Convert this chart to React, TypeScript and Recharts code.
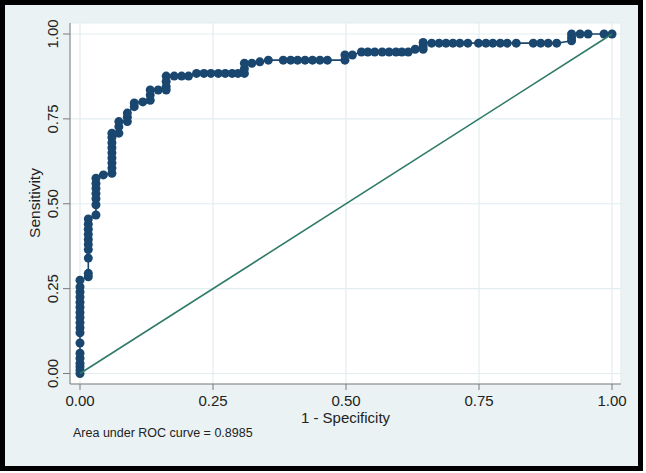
import React from "react";
import { CartesianGrid, Label, Scatter, ScatterChart, XAxis, YAxis } from "recharts";

document.body.style.margin = "0";

const NAVY = "#1a476f";
const VERDE = "#2f7a68";
const FONDO = "#eaf2f3";
const EJE = "#7a7a7a";

const TICKS = [0, 0.25, 0.5, 0.75, 1];

// 1 - specificity
const FPR = [
  0, 0, 0, 0, 0, 0, 0, 0, 0, 0, 0, 0, 0, 0, 0, 0, 0, 0,
  0.0156, 0.0156, 0.0156, 0.0156, 0.0156, 0.0156, 0.0156, 0.0156, 0.0156, 0.0156,
  0.03, 0.03, 0.03, 0.03, 0.03, 0.03, 0.03,
  0.044,
  0.06, 0.06, 0.06, 0.06, 0.06, 0.06, 0.06, 0.06, 0.06,
  0.073, 0.073, 0.073,
  0.089, 0.089, 0.089,
  0.102, 0.102,
  0.118,
  0.132, 0.132, 0.132,
  0.147,
  0.162, 0.162, 0.162, 0.162,
  0.177, 0.191, 0.204,
  0.219, 0.233, 0.246, 0.26, 0.273, 0.286, 0.297,
  0.309, 0.309, 0.309,
  0.323, 0.338, 0.354,
  0.382, 0.396, 0.409, 0.423, 0.437, 0.451, 0.465,
  0.498, 0.498,
  0.512, 0.529,
  0.541, 0.554, 0.568, 0.581, 0.594, 0.605, 0.617, 0.63,
  0.645, 0.645, 0.645,
  0.661, 0.675, 0.688, 0.701, 0.714, 0.729,
  0.749, 0.763, 0.776, 0.79, 0.803, 0.82,
  0.852, 0.866, 0.88, 0.896,
  0.924, 0.924, 0.924,
  0.94, 0.955, 0.985, 1.0,
];

// sensitivity
const TPR = [
  0, 0.01, 0.02, 0.03, 0.045, 0.06, 0.09, 0.12, 0.135, 0.15, 0.165, 0.18, 0.195, 0.21, 0.225, 0.24, 0.255, 0.275,
  0.285, 0.295, 0.34, 0.365, 0.38, 0.395, 0.41, 0.425, 0.44, 0.455,
  0.467, 0.497, 0.515, 0.53, 0.545, 0.56, 0.575,
  0.585,
  0.59, 0.605, 0.62, 0.635, 0.65, 0.665, 0.68, 0.695, 0.708,
  0.708, 0.727, 0.742,
  0.742, 0.755, 0.767,
  0.786, 0.797,
  0.8,
  0.805, 0.82, 0.835,
  0.835,
  0.835, 0.845, 0.86, 0.876,
  0.876, 0.876, 0.876,
  0.884, 0.884, 0.884, 0.884, 0.884, 0.884, 0.884,
  0.884, 0.898, 0.914,
  0.914, 0.918, 0.923,
  0.923, 0.923, 0.923, 0.923, 0.923, 0.923, 0.923,
  0.923, 0.938,
  0.938, 0.947,
  0.947, 0.947, 0.947, 0.947, 0.947, 0.947, 0.947, 0.955,
  0.955, 0.965, 0.975,
  0.973, 0.973, 0.973, 0.973, 0.973, 0.973,
  0.973, 0.973, 0.973, 0.973, 0.973, 0.973,
  0.973, 0.973, 0.973, 0.973,
  0.98, 0.99, 1.0,
  1.0, 1.0, 1.0, 1.0,
];

const DIAG_X = [0, 1];
const DIAG_Y = [0, 1];

const roc = FPR.map((x, i) => ({ x, y: TPR[i] }));
const diag = DIAG_X.map((x, i) => ({ x, y: DIAG_Y[i] }));

const FUENTE = "'Liberation Sans', Arial, sans-serif";

function Punto({ cx, cy }: any) {
  return <circle cx={cx} cy={cy} r={4.5} fill={NAVY} />;
}

function TickX({ x, payload }: any) {
  return (
    <text x={x} y={406} textAnchor="middle" fontSize={15} fill="#222" fontFamily={FUENTE}>
      {payload.value.toFixed(2)}
    </text>
  );
}

function TickY({ y, payload }: any) {
  return (
    <text x={58} y={y} transform={`rotate(-90 58 ${y})`} textAnchor="middle" fontSize={15} fill="#222" fontFamily={FUENTE}>
      {payload.value.toFixed(2)}
    </text>
  );
}

export default function App() {
  return (
    <div style={{ position: "relative", width: 646, height: 473, background: "#fff" }}>
      <div
        style={{
          position: "absolute",
          left: 0,
          top: 0,
          width: 643,
          height: 471,
          boxSizing: "border-box",
          border: "5px solid #000",
          background: FONDO,
        }}
      />
      <div style={{ position: "absolute", left: 0, top: 0 }}>
        <ScatterChart width={646} height={473} margin={{ top: 23, right: 25, left: 0, bottom: 0 }}>
          <CartesianGrid fill="#fff" stroke="#e3edf0" strokeWidth={1.2} />
          <XAxis
            type="number"
            dataKey="x"
            domain={[-0.0188, 1.0169]}
            ticks={TICKS}
            allowDataOverflow
            height={89}
            tickSize={6}
            stroke={EJE}
            tick={<TickX />}
          >
            <Label
              content={() => (
                <text x={345.5} y={423} textAnchor="middle" fontSize={15} fill="#222" fontFamily={FUENTE}>
                  1 - Specificity
                </text>
              )}
            />
            <Label
              content={() => (
                <text x={73} y={437} fontSize={12.5} fill="#222" fontFamily={FUENTE}>
                  Area under ROC curve = 0.8985
                </text>
              )}
            />
          </XAxis>
          <YAxis
            type="number"
            dataKey="y"
            domain={[-0.0309, 1.0324]}
            ticks={TICKS}
            allowDataOverflow
            width={70}
            tickSize={7}
            stroke={EJE}
            tick={<TickY />}
          >
            <Label
              content={() => (
                <text x={40} y={203} transform="rotate(-90 40 203)" textAnchor="middle" fontSize={15.5} fill="#222" fontFamily={FUENTE}>
                  Sensitivity
                </text>
              )}
            />
          </YAxis>
          <Scatter
            data={roc}
            line={{ stroke: NAVY, strokeWidth: 1.6 }}
            shape={<Punto />}
            isAnimationActive={false}
          />
          <Scatter
            data={diag}
            line={{ stroke: VERDE, strokeWidth: 1.6 }}
            shape={() => <g />}
            isAnimationActive={false}
          />
        </ScatterChart>
      </div>
    </div>
  );
}
